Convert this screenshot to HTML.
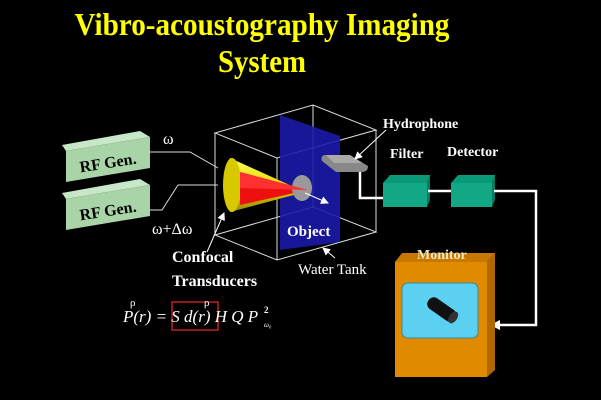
<!DOCTYPE html>
<html><head><style>html,body{margin:0;padding:0;background:#000;}svg{display:block}</style></head>
<body>
<svg width="601" height="400" viewBox="0 0 601 400" xmlns="http://www.w3.org/2000/svg" font-family="Liberation Serif, serif">
<rect width="601" height="400" fill="#000"/>
<defs>
<marker id="ah" markerWidth="8" markerHeight="8" refX="7" refY="4" orient="auto" markerUnits="userSpaceOnUse"><path d="M0,0 L8,4 L0,8 Z" fill="#fff"/></marker>
<linearGradient id="yl" x1="0" y1="0" x2="0" y2="1"><stop offset="0" stop-color="#ffff60"/><stop offset="0.5" stop-color="#e8d800"/><stop offset="1" stop-color="#9a8a00"/></linearGradient>
</defs>
<text x="262" y="35" fill="#ffff00" font-size="32" font-weight="bold" text-anchor="middle" textLength="375" lengthAdjust="spacingAndGlyphs">Vibro-acoustography Imaging</text>
<text x="262" y="72" fill="#ffff00" font-size="32" font-weight="bold" text-anchor="middle" textLength="88" lengthAdjust="spacingAndGlyphs">System</text>

<!-- RF Gen boxes -->
<polygon points="62,145 140,131 150,137 66,151" fill="#c8e6c8"/>
<polygon points="66,151 150,137 150,168 66,182" fill="#a8d4a8"/>
<text x="108" y="168" fill="#000" font-size="16" font-weight="bold" text-anchor="middle" transform="rotate(-9 108 163)">RF Gen.</text>
<polygon points="62,193 140,179 150,185 66,199" fill="#c8e6c8"/>
<polygon points="66,199 150,185 150,216 66,230" fill="#a8d4a8"/>
<text x="108" y="216" fill="#000" font-size="16" font-weight="bold" text-anchor="middle" transform="rotate(-9 108 211)">RF Gen.</text>

<!-- tank back lines -->
<g stroke="#ddd" stroke-width="1" fill="none">
<polygon points="215,133 313,105 376,130 277,158"/>
<polygon points="215,235 313,207 376,232 277,260"/>
<line x1="215" y1="133" x2="215" y2="235"/><line x1="313" y1="105" x2="313" y2="207"/>
<line x1="376" y1="130" x2="376" y2="232"/><line x1="277" y1="158" x2="277" y2="260"/>
</g>
<polygon points="280,115 340,136 340,242 280,250" fill="#1a1aa8" opacity="0.9"/>

<!-- connectors -->
<polyline points="150,152 190,152 218,168" stroke="#ddd" fill="none"/>
<polyline points="150,210 162,210 178,185 218,185" stroke="#ddd" fill="none"/>
<text x="163" y="144" fill="#fff" font-size="16">ω</text>
<text x="152" y="234" fill="#fff" font-size="16">ω+Δω</text>

<!-- transducer -->
<path d="M230,158 Q220,185 230,212 L305,192 Z" fill="url(#yl)"/>
<ellipse cx="232" cy="185" rx="9" ry="27" fill="#d8c800"/>
<path d="M240,172 L240,205 L308,190 Z" fill="#ee1010"/>
<ellipse cx="302" cy="188" rx="10" ry="13" fill="#999"/>
<path d="M240,172 L308,190 L240,188 Z" fill="#ff3030"/>
<line x1="305" y1="193" x2="328" y2="203" stroke="#fff" marker-end="url(#ah)"/>
<line x1="207" y1="252" x2="224" y2="213" stroke="#fff" marker-end="url(#ah)"/>
<text x="172" y="262" fill="#fff" font-size="16" font-weight="bold">Confocal</text>
<text x="172" y="286" fill="#fff" font-size="16" font-weight="bold">Transducers</text>
<text x="287" y="236" fill="#fff" font-size="15" font-weight="bold">Object</text>
<line x1="335" y1="258" x2="323" y2="248" stroke="#fff" marker-end="url(#ah)"/>
<text x="298" y="274" fill="#fff" font-size="15">Water Tank</text>

<!-- hydrophone -->
<path d="M326,155 L350,155 L368,166 Q368,172 362,172 L336,172 L322,161 Q320,155 326,155 Z" fill="#888"/>
<path d="M326,155 L350,155 L362,163 L334,163 Z" fill="#aaa"/>
<line x1="386" y1="130" x2="355" y2="159" stroke="#fff" marker-end="url(#ah)"/>
<text x="383" y="128" fill="#fff" font-size="14" font-weight="bold">Hydrophone</text>
<polyline points="360,172 360,198 383,198" stroke="#fff" stroke-width="2.5" fill="none"/>

<!-- filter / detector -->
<polygon points="383,183 390,175 430,175 427,183" fill="#0a9a78"/>
<rect x="383" y="183" width="44" height="24" fill="#12a886"/>
<polygon points="427,183 430,175 430,200 427,207" fill="#087a60"/>
<polygon points="451,183 458,175 495,175 492,183" fill="#0a9a78"/>
<rect x="451" y="183" width="41" height="24" fill="#12a886"/>
<polygon points="492,183 495,175 495,200 492,207" fill="#087a60"/>
<text x="390" y="158" fill="#fff" font-size="14" font-weight="bold">Filter</text>
<text x="447" y="156" fill="#fff" font-size="14" font-weight="bold">Detector</text>
<line x1="428" y1="191" x2="451" y2="191" stroke="#fff" stroke-width="2.5"/>
<polyline points="494,191 536,191 536,325 497,325" stroke="#fff" stroke-width="2.5" fill="none"/>
<path d="M490,325 L500,320 L500,330 Z" fill="#fff"/>

<!-- monitor -->
<polygon points="395,262 402,253 495,253 487,262" fill="#c87800"/>
<rect x="395" y="262" width="92" height="115" fill="#e08a00"/>
<polygon points="487,262 495,253 495,370 487,377" fill="#b06800"/>
<rect x="402" y="283" width="76" height="55" rx="6" fill="#5cd0f0" stroke="#3a8aa0"/>
<g transform="rotate(35 442 309)"><rect x="426" y="303" width="32" height="13" rx="6" fill="#111"/><ellipse cx="456" cy="309.5" rx="4" ry="6.5" fill="#333"/></g>
<text x="417" y="259" fill="#f0e8c0" font-size="14" font-weight="bold">Monitor</text>

<!-- formula -->
<rect x="172" y="302" width="46" height="28" fill="none" stroke="#c02020" stroke-width="1.5"/>
<text x="123" y="322" fill="#fff" font-size="17" font-style="italic">P(r) = S d(r) H Q P</text>
<text x="130" y="306" fill="#fff" font-size="11">ρ</text>
<text x="204" y="306" fill="#fff" font-size="11">ρ</text>
<text x="264" y="313" fill="#fff" font-size="9" font-weight="bold">2</text>
<text x="264" y="327" fill="#fff" font-size="7" font-style="italic">ω₀</text>
</svg>
</body></html>
